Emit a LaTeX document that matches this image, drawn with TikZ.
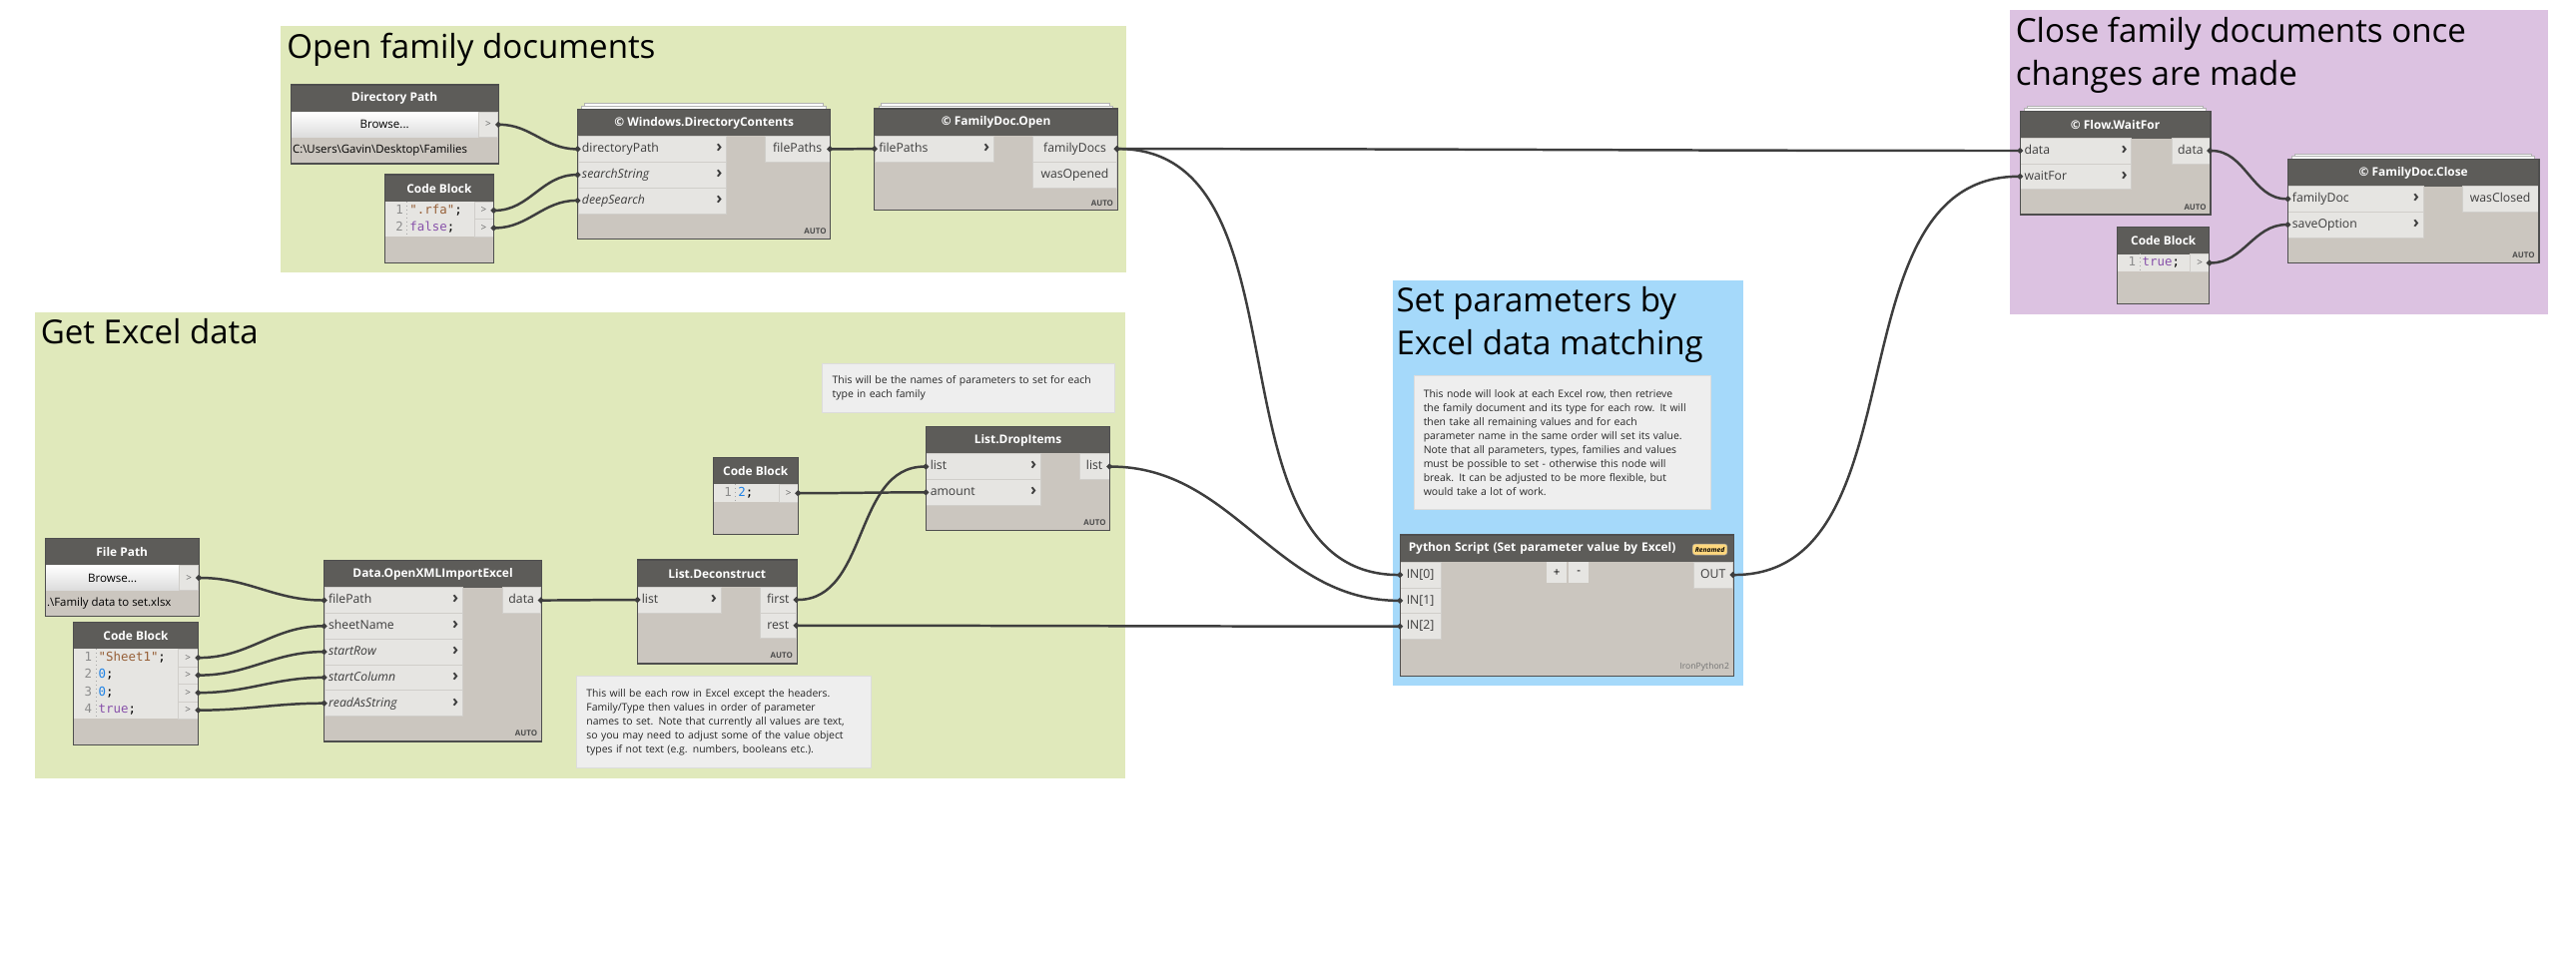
\documentclass[tikz,border=0pt]{standalone}
\usepackage{fontspec}
\setmainfont{Open Sans}
\setmonofont{DejaVu Sans Mono}
\usetikzlibrary{positioning, arrows.meta}

\definecolor{grpgreen}{RGB}{224,233,187}
\definecolor{grpblue}{RGB}{165,217,250}
\definecolor{grppurple}{RGB}{220,194,225}
\definecolor{nodehead}{RGB}{93,92,89}
\definecolor{nodebody}{RGB}{203,198,191}
\definecolor{nodeline}{RGB}{78,78,78}
\definecolor{portfill}{RGB}{230,229,226}
\definecolor{portline}{RGB}{208,206,202}
\definecolor{porttext}{RGB}{60,60,60}
\definecolor{wirecol}{RGB}{62,62,62}
\definecolor{notefill}{RGB}{238,238,238}
\definecolor{noteline}{RGB}{220,220,220}
\definecolor{strcol}{RGB}{150,95,55}
\definecolor{boolcol}{RGB}{135,80,170}
\definecolor{numcol}{RGB}{30,130,230}
\definecolor{lnumcol}{RGB}{140,140,140}
\definecolor{badgecol}{RGB}{255,215,125}

\begin{document}
\begin{tikzpicture}[x=1pt, y=-1pt,
    grp/.style={anchor=north west, inner sep=0pt, outer sep=0pt},
    grptitle/.style={anchor=base west, inner sep=0pt, align=left, font=\fontsize{20}{26}\selectfont},
    nbody/.style={anchor=north west, fill=nodebody, inner sep=0pt},
    nframe/.style={draw=nodeline, line width=0.7pt},
    nhead/.style={anchor=north west, fill=nodehead, text=white, inner sep=0pt, minimum height=16.2pt,
        font=\fontsize{7.2}{9}\selectfont\bfseries},
    inport/.style={anchor=north west, fill=portfill, draw=portline, line width=0.4pt, inner xsep=2.5pt,
        inner ysep=0pt, minimum height=15.6pt, text height=5.6pt, text depth=1.6pt, align=left,
        text=porttext, font=\fontsize{7.4}{9}\selectfont},
    outport/.style={anchor=north east, fill=portfill, draw=portline, line width=0.4pt, inner xsep=2.5pt,
        inner ysep=0pt, minimum height=15.6pt, text height=5.6pt, text depth=1.6pt,
        text=porttext, font=\fontsize{7.4}{9}\selectfont},
    browse/.style={anchor=north west, top color=white, bottom color=black!14, inner sep=0pt,
        minimum height=15.4pt, font=\fontsize{7}{8}\selectfont},
    cbout/.style={anchor=north west, fill=portfill, draw=portline, line width=0.4pt, inner sep=0pt,
        minimum height=10.6pt, text=black!60, font=\fontsize{6}{7}\selectfont},
    coderow/.style={anchor=north west, fill=portfill, inner sep=0pt, minimum height=10.6pt, align=left,
        text height=5.4pt, text depth=1.5pt, font=\ttfamily\fontsize{7.5}{9}\selectfont},
    gutter/.style={draw=black!35, line width=0.4pt, dotted},
    pathtext/.style={anchor=west, inner sep=0pt, font=\fontsize{6.9}{8}\selectfont},
    autotag/.style={anchor=south east, inner sep=0pt, text=black!70, font=\fontsize{4.8}{5}\selectfont\bfseries},
    stackline/.style={draw=black!30, fill=white, line width=0.5pt},
    note/.style={anchor=north west, fill=notefill, draw=noteline, line width=0.4pt, inner xsep=6pt,
        inner ysep=0pt, align=left, text=black!85, font=\fontsize{6.3}{8.5}\selectfont},
    pybtn/.style={anchor=north west, fill=portfill, inner sep=0pt, minimum width=12.1pt,
        minimum height=12.9pt, font=\fontsize{7}{8}\selectfont},
    wire/.style={draw=wirecol, line width=1.5pt, {Circle[length=3.2pt]}-{Circle[length=3.2pt]},
        shorten <=-1.6pt, shorten >=-1.6pt}]

    \useasboundingbox (0,0) rectangle (1560,592.5);

    % groups
    \node[grp, fill=grpgreen, minimum width=512pt, minimum height=149pt] (gopen) at (170,16) {};
    \node[grptitle] (gopentitle) at (173.5,35.3) {Open family documents};
    \node[grp, fill=grpgreen, minimum width=660.2pt, minimum height=282.6pt] (gexcel) at (21.3,189) {};
    \node[grptitle] (gexceltitle) at (24.5,208.3) {Get Excel data};
    \node[grp, fill=grpblue, minimum width=212.1pt, minimum height=245.3pt] (gset) at (843.4,170) {};
    \node[grptitle] (gsettitle) at (845.4,214.7) {Set parameters by\\Excel data matching};
    \node[grp, fill=grppurple, minimum width=326.3pt, minimum height=184.5pt] (gclose) at (1217,6) {};
    \node[grptitle] (gclosetitle) at (1220.5,51.6) {Close family documents once\\changes are made};

    % Directory Path
    \node[nbody, minimum width=125.4pt, minimum height=47.4pt] (dp) at (176,51.4) {};
    \node[nhead, minimum width=125.4pt] (dphead) at (176,51.4) {Directory Path};
    \node[browse, minimum width=113.4pt] (dpbtn) at (176,67.6) {Browse...};
    \node[cbout, minimum width=12pt, minimum height=15.4pt] (dpout) at (289.4,67.6) {>};
    \node[pathtext] (dppath) at (177,91) {C:\textbackslash Users\textbackslash Gavin\textbackslash Desktop\textbackslash Families};
    \draw[nframe] (dp.north west) rectangle (dp.south east);

    % Code Block (".rfa", false)
    \node[nbody, minimum width=65.6pt, minimum height=52.9pt] (cba) at (233,105.8) {};
    \node[nhead, minimum width=65.6pt] (cbahead) at (233,105.8) {Code Block};
    \node[coderow, text width=54pt] (cbal1) at (233,122) {\makebox[11pt][r]{\color{lnumcol}1}\hspace{4pt}{\color{strcol}".rfa"};};
    \node[coderow, text width=54pt] (cbal2) at (233,132.6) {\makebox[11pt][r]{\color{lnumcol}2}\hspace{4pt}{\color{boolcol}false};};
    \node[cbout, minimum width=11.6pt] (cbao1) at (287,122) {>};
    \node[cbout, minimum width=11.6pt] (cbao2) at (287,132.6) {>};
    \draw[gutter] (246.5,122) -- (246.5,143.2);
    \draw[nframe] (cba.north west) rectangle (cba.south east);

    % Windows.DirectoryContents
    \draw[stackline] (354,62.6) rectangle (498.4,70);
    \draw[stackline] (352.3,64.2) rectangle (500.1,70);
    \node[nbody, minimum width=152.8pt, minimum height=78.1pt] (dc) at (349.8,66.1) {};
    \node[nhead, minimum width=152.8pt] (dchead) at (349.8,66.1) {© Windows.DirectoryContents};
    \node[inport, text width=85pt] (dcin1) at (349.8,82.3) {directoryPath\hfill{\fontsize{10}{9}\selectfont\bfseries ›}};
    \node[inport, text width=85pt] (dcin2) at (349.8,97.9) {\textit{searchString}\hfill{\fontsize{10}{9}\selectfont\bfseries ›}};
    \node[inport, text width=85pt] (dcin3) at (349.8,113.5) {\textit{deepSearch}\hfill{\fontsize{10}{9}\selectfont\bfseries ›}};
    \node[outport, minimum width=38.9pt] (dcout1) at (502.6,82.3) {filePaths};
    \node[autotag] (dcauto) at (500.6,142) {AUTO};
    \draw[nframe] (dc.north west) rectangle (dc.south east);

    % FamilyDoc.Open
    \draw[stackline] (533.8,62.6) rectangle (672.2,70);
    \draw[stackline] (532.1,64.2) rectangle (673.9,70);
    \node[nbody, minimum width=146.8pt, minimum height=61.1pt] (fdo) at (529.6,65.9) {};
    \node[nhead, minimum width=146.8pt] (fdohead) at (529.6,65.9) {© FamilyDoc.Open};
    \node[inport, text width=67pt] (fdoin1) at (529.6,82.2) {filePaths\hfill{\fontsize{10}{9}\selectfont\bfseries ›}};
    \node[outport, minimum width=50.6pt] (fdoout1) at (676.4,82.2) {familyDocs};
    \node[outport, minimum width=50.6pt] (fdoout2) at (676.4,97.8) {wasOpened};
    \node[autotag] (fdoauto) at (674.4,124.8) {AUTO};
    \draw[nframe] (fdo.north west) rectangle (fdo.south east);

    % note for parameter names
    \node[note, text width=165pt, minimum height=29.4pt] (notenames) at (497.9,220.1)
        {This will be the names of parameters to set for each\\type in each family};

    % Code Block (2)
    \node[nbody, minimum width=51pt, minimum height=46.4pt] (cbb) at (431.9,277.1) {};
    \node[nhead, minimum width=51pt] (cbbhead) at (431.9,277.1) {Code Block};
    \node[coderow, text width=39.8pt] (cbbl1) at (431.9,293.3) {\makebox[11pt][r]{\color{lnumcol}1}\hspace{4pt}{\color{numcol}2};};
    \node[cbout, minimum width=11.2pt] (cbbo1) at (471.7,293.3) {>};
    \draw[gutter] (445.4,293.3) -- (445.4,303.9);
    \draw[nframe] (cbb.north west) rectangle (cbb.south east);

    % List.DropItems
    \node[nbody, minimum width=111.2pt, minimum height=62.5pt] (di) at (560.7,258.4) {};
    \node[nhead, minimum width=111.2pt] (dihead) at (560.7,258.4) {List.DropItems};
    \node[inport, text width=64.4pt] (diin1) at (560.7,274.7) {list\hfill{\fontsize{10}{9}\selectfont\bfseries ›}};
    \node[inport, text width=64.4pt] (diin2) at (560.7,290.3) {amount\hfill{\fontsize{10}{9}\selectfont\bfseries ›}};
    \node[outport, minimum width=17.9pt] (diout1) at (671.9,274.7) {list};
    \node[autotag] (diauto) at (669.9,318.4) {AUTO};
    \draw[nframe] (di.north west) rectangle (di.south east);

    % File Path
    \node[nbody, minimum width=92.6pt, minimum height=47.2pt] (fp) at (27.4,326) {};
    \node[nhead, minimum width=92.6pt] (fphead) at (27.4,326) {File Path};
    \node[browse, minimum width=81pt] (fpbtn) at (27.4,342.2) {Browse...};
    \node[cbout, minimum width=11.6pt, minimum height=15.4pt] (fpout) at (108.4,342.2) {>};
    \node[pathtext] (fppath) at (28.3,365.6) {.\textbackslash Family data to set.xlsx};
    \draw[nframe] (fp.north west) rectangle (fp.south east);

    % Code Block (sheet, rows, columns, text)
    \node[nbody, minimum width=75.1pt, minimum height=74.1pt] (cbc) at (44.5,376.9) {};
    \node[nhead, minimum width=75.1pt] (cbchead) at (44.5,376.9) {Code Block};
    \node[coderow, text width=63.2pt] (cbcl1) at (44.5,393) {\makebox[11pt][r]{\color{lnumcol}1}\hspace{4pt}{\color{strcol}"Sheet1"};};
    \node[coderow, text width=63.2pt] (cbcl2) at (44.5,403.6) {\makebox[11pt][r]{\color{lnumcol}2}\hspace{4pt}{\color{numcol}0};};
    \node[coderow, text width=63.2pt] (cbcl3) at (44.5,414.2) {\makebox[11pt][r]{\color{lnumcol}3}\hspace{4pt}{\color{numcol}0};};
    \node[coderow, text width=63.2pt] (cbcl4) at (44.5,424.8) {\makebox[11pt][r]{\color{lnumcol}4}\hspace{4pt}{\color{boolcol}true};};
    \node[cbout, minimum width=11.9pt] (cbco1) at (107.7,393) {>};
    \node[cbout, minimum width=11.9pt] (cbco2) at (107.7,403.6) {>};
    \node[cbout, minimum width=11.9pt] (cbco3) at (107.7,414.2) {>};
    \node[cbout, minimum width=11.9pt] (cbco4) at (107.7,424.8) {>};
    \draw[gutter] (58,393) -- (58,435.4);
    \draw[nframe] (cbc.north west) rectangle (cbc.south east);

    % Data.OpenXMLImportExcel
    \node[nbody, minimum width=131.3pt, minimum height=109.2pt] (xl) at (196.3,339.6) {};
    \node[nhead, minimum width=131.3pt] (xlhead) at (196.3,339.6) {Data.OpenXMLImportExcel};
    \node[inport, text width=78.6pt] (xlin1) at (196.3,355.7) {filePath\hfill{\fontsize{10}{9}\selectfont\bfseries ›}};
    \node[inport, text width=78.6pt] (xlin2) at (196.3,371.3) {sheetName\hfill{\fontsize{10}{9}\selectfont\bfseries ›}};
    \node[inport, text width=78.6pt] (xlin3) at (196.3,386.9) {\textit{startRow}\hfill{\fontsize{10}{9}\selectfont\bfseries ›}};
    \node[inport, text width=78.6pt] (xlin4) at (196.3,402.5) {\textit{startColumn}\hfill{\fontsize{10}{9}\selectfont\bfseries ›}};
    \node[inport, text width=78.6pt] (xlin5) at (196.3,418.1) {\textit{readAsString}\hfill{\fontsize{10}{9}\selectfont\bfseries ›}};
    \node[outport, minimum width=23.3pt] (xlout1) at (327.6,355.7) {data};
    \node[autotag] (xlauto) at (325.6,446.4) {AUTO};
    \draw[nframe] (xl.north west) rectangle (xl.south east);

    % List.Deconstruct
    \node[nbody, minimum width=96.2pt, minimum height=62.5pt] (ld) at (386,339.2) {};
    \node[nhead, minimum width=96.2pt] (ldhead) at (386,339.2) {List.Deconstruct};
    \node[inport, text width=45.4pt] (ldin1) at (386,355.4) {list\hfill{\fontsize{10}{9}\selectfont\bfseries ›}};
    \node[outport, minimum width=21.7pt] (ldout1) at (482.2,355.4) {first};
    \node[outport, minimum width=21.7pt] (ldout2) at (482.2,371) {rest};
    \node[autotag] (ldauto) at (480.2,399.2) {AUTO};
    \draw[nframe] (ld.north west) rectangle (ld.south east);

    % note for Excel rows
    \node[note, text width=166pt, minimum height=55.7pt] (noterows) at (349,409.5)
        {This will be each row in Excel except the headers.\\Family/Type then values in order of parameter\\names to set. Note that currently all values are text,\\so you may need to adjust some of the value object\\types if not text (e.g. numbers, booleans etc.).};

    % note for the python node
    \node[note, text width=168pt, minimum height=81pt] (notepy) at (855.9,227.4)
        {This node will look at each Excel row, then retrieve\\the family document and its type for each row. It will\\then take all remaining values and for each\\parameter name in the same order will set its value.\\Note that all parameters, types, families and values\\must be possible to set - otherwise this node will\\break. It can be adjusted to be more flexible, but\\would take a lot of work.};

    % Python Script
    \node[nbody, minimum width=201.6pt, minimum height=85.1pt] (py) at (847.8,324.1) {};
    \node[nhead, minimum width=201.6pt, inner xsep=5pt, text width=191.6pt, align=left] (pyhead) at (847.8,324.1) {Python Script (Set parameter value by Excel)};
    \node[fill=badgecol, draw=black!40, line width=0.3pt, rounded corners=1.5pt, inner sep=0pt, minimum width=21pt, minimum height=6.6pt,
        font=\fontsize{4}{4}\selectfont\bfseries\itshape] (pybadge) at (1035.5,332.9) {Renamed};
    \node[inport, minimum width=24.4pt] (pyin0) at (847.8,340.3) {IN[0]};
    \node[inport, minimum width=24.4pt] (pyin1) at (847.8,355.9) {IN[1]};
    \node[inport, minimum width=24.4pt] (pyin2) at (847.8,371.5) {IN[2]};
    \node[pybtn] (pyplus) at (936.5,340.3) {+};
    \node[pybtn] (pyminus) at (949.9,340.3) {-};
    \node[outport, minimum width=23.5pt] (pyout) at (1049.4,340.3) {OUT};
    \node[anchor=base east, inner sep=0pt, text=black!55, font=\fontsize{5.2}{6}\selectfont] (pyengine) at (1047.4,405.4) {IronPython2};
    \draw[nframe] (py.north west) rectangle (py.south east);

    % Flow.WaitFor
    \draw[stackline] (1227.5,64.2) rectangle (1334.1,71);
    \draw[stackline] (1225.8,65.8) rectangle (1335.8,71);
    \node[nbody, minimum width=115pt, minimum height=62.1pt] (wf) at (1223.3,67.5) {};
    \node[nhead, minimum width=115pt] (wfhead) at (1223.3,67.5) {© Flow.WaitFor};
    \node[inport, text width=62.3pt] (wfin1) at (1223.3,83.3) {data\hfill{\fontsize{10}{9}\selectfont\bfseries ›}};
    \node[inport, text width=62.3pt] (wfin2) at (1223.3,98.9) {waitFor\hfill{\fontsize{10}{9}\selectfont\bfseries ›}};
    \node[outport, minimum width=23.1pt] (wfout1) at (1338.3,83.3) {data};
    \node[autotag] (wfauto) at (1336.3,127.4) {AUTO};
    \draw[nframe] (wf.north west) rectangle (wf.south east);

    % Code Block (true)
    \node[nbody, minimum width=55.4pt, minimum height=46.2pt] (cbd) at (1282.2,137.7) {};
    \node[nhead, minimum width=55.4pt] (cbdhead) at (1282.2,137.7) {Code Block};
    \node[coderow, text width=44pt] (cbdl1) at (1282.2,153.8) {\makebox[11pt][r]{\color{lnumcol}1}\hspace{4pt}{\color{boolcol}true};};
    \node[cbout, minimum width=11.4pt] (cbdo1) at (1326.2,153.8) {>};
    \draw[gutter] (1295.7,153.8) -- (1295.7,164.4);
    \draw[nframe] (cbd.north west) rectangle (cbd.south east);

    % FamilyDoc.Close
    \draw[stackline] (1389.7,93.1) rectangle (1533,100);
    \draw[stackline] (1388,94.7) rectangle (1534.7,100);
    \node[nbody, minimum width=151.7pt, minimum height=62.3pt] (fc) at (1385.5,96.4) {};
    \node[nhead, minimum width=151.7pt] (fchead) at (1385.5,96.4) {© FamilyDoc.Close};
    \node[inport, text width=76.8pt] (fcin1) at (1385.5,112.5) {familyDoc\hfill{\fontsize{10}{9}\selectfont\bfseries ›}};
    \node[inport, text width=76.8pt] (fcin2) at (1385.5,128.1) {saveOption\hfill{\fontsize{10}{9}\selectfont\bfseries ›}};
    \node[outport, minimum width=45.7pt] (fcout1) at (1537.2,112.5) {wasClosed};
    \node[autotag] (fcauto) at (1535.2,156.4) {AUTO};
    \draw[nframe] (fc.north west) rectangle (fc.south east);

    % wires
    \draw[wire] (dpout.east) to[out=0, in=180] (dcin1.west);
    \draw[wire] (cbao1.east) to[out=0, in=180] (dcin2.west);
    \draw[wire] (cbao2.east) to[out=0, in=180] (dcin3.west);
    \draw[wire] (dcout1.east) to[out=0, in=180] (fdoin1.west);
    \draw[wire] (fdoout1.east) to[out=0, in=180] (wfin1.west);
    \draw[wire] (fdoout1.east) to[out=0, in=180] (pyin0.west);
    \draw[wire] (fpout.east) to[out=0, in=180] (xlin1.west);
    \draw[wire] (cbco1.east) to[out=0, in=180] (xlin2.west);
    \draw[wire] (cbco2.east) to[out=0, in=180] (xlin3.west);
    \draw[wire] (cbco3.east) to[out=0, in=180] (xlin4.west);
    \draw[wire] (cbco4.east) to[out=0, in=180] (xlin5.west);
    \draw[wire] (xlout1.east) to[out=0, in=180] (ldin1.west);
    \draw[wire] (ldout1.east) to[out=0, in=180] (diin1.west);
    \draw[wire] (cbbo1.east) to[out=0, in=180] (diin2.west);
    \draw[wire] (diout1.east) to[out=0, in=180] (pyin1.west);
    \draw[wire] (ldout2.east) to[out=0, in=180] (pyin2.west);
    \draw[wire] (pyout.east) to[out=0, in=180] (wfin2.west);
    \draw[wire] (wfout1.east) to[out=0, in=180] (fcin1.west);
    \draw[wire] (cbdo1.east) to[out=0, in=180] (fcin2.west);

\end{tikzpicture}
\end{document}
